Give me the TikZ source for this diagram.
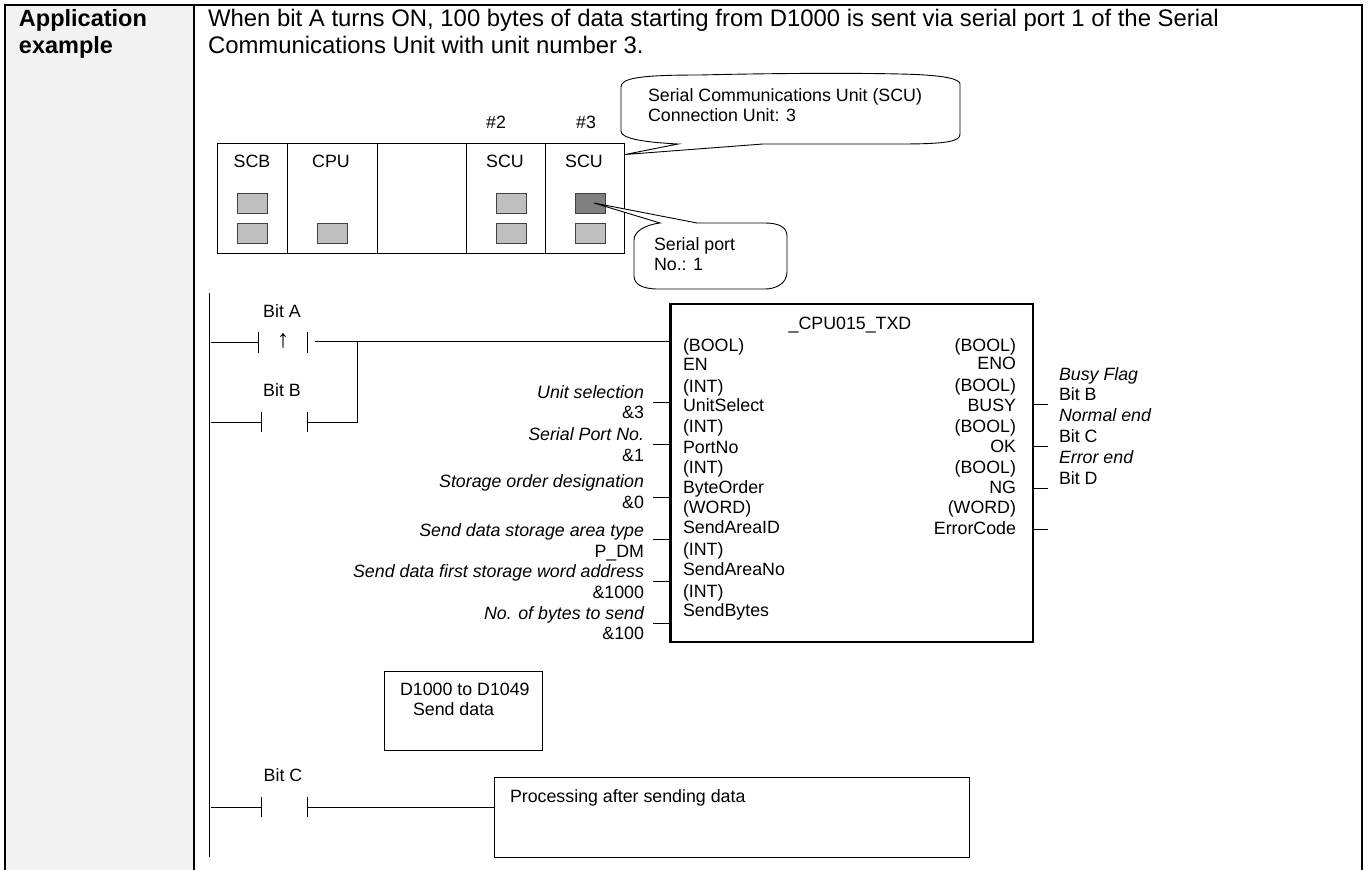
\documentclass[tikz,border=0pt]{standalone}
\usepackage{fontspec}
\setmainfont{Liberation Sans}
\tikzset{
  x=1pt,y=-1pt,
  every node/.style={inner sep=0pt,outer sep=0pt,font=\fontsize{17.8}{20}\selectfont},
  lbl/.style={anchor=base},
  lft/.style={anchor=base west},
  rgt/.style={anchor=base east},
  itl/.style={anchor=base east,font=\fontsize{17.8}{20}\selectfont\itshape},
  wire/.style={draw=black,line width=1pt},
  border/.style={draw=black,line width=2pt},
  slot/.style={draw=black!75,line width=1pt,fill=black!25,minimum width=30pt,minimum height=20pt},
  slotdark/.style={slot,fill=black!50},
  unit/.style={draw=black,line width=0.9pt,minimum height=110pt},
  callout/.style={draw=black,line width=0.9pt,fill=white},
  bodytext/.style={anchor=base west,font=\fontsize{23.9}{25}\selectfont},
  headtext/.style={anchor=base west,font=\fontsize{23.5}{25}\selectfont\bfseries},
}
\begin{document}
\begin{tikzpicture}
\useasboundingbox (0,0) rectangle (1368,870);
\fill[white] (0,0) rectangle (1368,870);
\fill[black!5] (5,5) rectangle (194,870);
% table frame
\coordinate (tl) at (4.5,5);
\coordinate (tr) at (1362,5);
\coordinate (bl) at (4.5,870);
\coordinate (br) at (1362,870);
\coordinate (tm) at (194,5);
\coordinate (bm) at (194,870);
\draw[border] (bl) -- (tl) -- (tr) -- (br);
\draw[border] (tm) -- (bm);
\node[headtext] (t1) at (19,27) {Application};
\node[headtext] (t2) at (19,53) {example};
\node[bodytext] (d1) at (208,27) {When bit A turns ON, 100 bytes of data starting from D1000 is sent via serial port 1 of the Serial};
\node[bodytext] (d2) at (208,53) {Communications Unit with unit number 3.};
% rack
\node[unit,anchor=north west,minimum width=70pt] (u1) at (217,143) {};
\node[unit,anchor=north west,minimum width=90pt] (u2) at (287,143) {};
\node[unit,anchor=north west,minimum width=89pt] (u3) at (377,143) {};
\node[unit,anchor=north west,minimum width=79pt] (u4) at (466,143) {};
\node[unit,anchor=north west,minimum width=79pt] (u5) at (545,143) {};
\node[lbl] (nsh2) at (496,128) {\#2};
\node[lbl] (nsh3) at (586,128) {\#3};
\node[lbl] (n1) at (252,167) {SCB};
\node[lbl] (n2) at (331,167) {CPU};
\node[lbl] (n4) at (505,167) {SCU};
\node[lbl] (n5) at (584,167) {SCU};
\node[slot] (s1) at (252,203) {};
\node[slot] (s2) at (252,233) {};
\node[slot] (s3) at (332,233) {};
\node[slot] (s4) at (511,203) {};
\node[slot] (s5) at (511,233) {};
\node[slotdark] (s6) at (590,203) {};
\node[slot] (s7) at (590,233.500) {};
% callout 1
\draw[callout] (625,154.500) -- (678,144)
  .. controls (640,142) and (621,138) .. (621,131)
  -- (621,87)
  .. controls (621,78) and (640,75) .. (700,75)
  .. controls (780,73) and (860,73) .. (900,74)
  .. controls (950,75) and (960,80) .. (960,84)
  -- (960,134)
  .. controls (960,141) and (950,144) .. (900,144)
  -- (763,144)
  -- cycle;
\node[lft] (c1a) at (648,101) {Serial Communications Unit (SCU)};
\node[lft] (c1b) at (648,121) {Connection Unit: 3};
% callout 2
\draw[callout] (594,203) -- (697,223)
  -- (765,223)
  .. controls (780,223) and (787,228) .. (787,236)
  -- (787,272)
  .. controls (787,284) and (775,289) .. (765,289)
  -- (658,289)
  .. controls (642,289) and (634,284) .. (634,276)
  -- (634,240)
  .. controls (634,232) and (644,225) .. (660,223)
  -- cycle;
\node[lft] (c2a) at (654,250) {Serial port};
\node[lft] (c2b) at (654,270) {No.: 1};
% rails
\coordinate (r1a) at (209,293);
\coordinate (r1b) at (209,857);
\draw[wire] (r1a) -- (r1b);
% Bit A contact
\node[lbl] (ba) at (282,317) {Bit A};
\coordinate (a0) at (211,342);\coordinate (a1) at (258,342);
\coordinate (a1t) at (258,332);\coordinate (a1b) at (258,353);
\coordinate (a2t) at (307,332);\coordinate (a2b) at (307,353);
\coordinate (a3) at (315,341);\coordinate (a4) at (670,341);
\coordinate (aj) at (357,341);
\draw[wire] (a0) -- (a1) (a1t) -- (a1b) (a2t) -- (a2b) (a3) -- (a4);
\node[lbl,font=\fontsize{25}{25}\selectfont] (arr) at (283,347) {↑};
% Bit B contact
\node[lbl] (bb) at (282,396) {Bit B};
\coordinate (b0) at (211,422);\coordinate (b1) at (261,422);
\coordinate (b1t) at (261,412);\coordinate (b1b) at (261,432);
\coordinate (b2t) at (307,412);\coordinate (b2b) at (307,432);
\coordinate (b3) at (357,422);
\draw[wire] (b0) -- (b1) (b1t) -- (b1b) (b2t) -- (b2b) (b2t |- b3) -- (b3) -- (aj);
% FB
\node[draw=black,line width=2.4pt,anchor=north west,minimum width=362.500pt,minimum height=338pt] (fb) at (670.500,304) {};
\node[lbl] (fbt) at (850,329) {\_CPU015\_TXD};
\foreach \i/\y/\a/\yb/\b in {0/351/(BOOL)/370/EN,1/392/(INT)/411/UnitSelect,2/432/(INT)/453/PortNo,3/473/(INT)/493/ByteOrder,4/513/(WORD)/533/SendAreaID,5/555/(INT)/575/SendAreaNo,6/597/(INT)/616/SendBytes}{
  \node[lft] (il\i) at (683,\y) {\a};
  \node[lft] (in\i) at (683,\yb) {\b};
}
\foreach \i/\y/\a/\yb/\b in {0/351/(BOOL)/369/ENO,1/391/(BOOL)/411/BUSY,2/432/(BOOL)/452/OK,3/473/(BOOL)/493/NG,4/513/(WORD)/534/ErrorCode}{
  \node[rgt] (ol\i) at (1016,\y) {\a};
  \node[rgt] (on\i) at (1016,\yb) {\b};
}
% input params
\foreach \i/\a/\ya/\b/\yb/\w in {1/Unit selection/398/\&3/418/402.5,2/Serial Port No./440/\&1/461/444,3/Storage order designation/487/\&0/508/497.5,4/Send data storage area type/536/P\_DM/557/539.5,5/Send data first storage word address/577/\&1000/598/581.5,6/No. of bytes to send/619/\&100/639/623}{
  \node[itl] (pl\i) at (644,\ya) {\a};
  \node[rgt] (pv\i) at (644,\yb) {\b};
  \coordinate (pw\i) at (653,\w);
  \draw[wire] (pw\i) -- (pw\i -| fb.west);
}
% output params
\foreach \i/\y in {1/404,2/446,3/488,4/529}{
  \coordinate (ow\i) at (1048,\y);
  \draw[wire] (ow\i -| fb.east) -- (ow\i);
}
\node[itl,anchor=base west] (q1) at (1059,380) {Busy Flag};
\node[lft] (q1v) at (1059,400) {Bit B};
\node[itl,anchor=base west] (q2) at (1059,421) {Normal end};
\node[lft] (q2v) at (1059,442) {Bit C};
\node[itl,anchor=base west] (q3) at (1059,463) {Error end};
\node[lft] (q3v) at (1059,484) {Bit D};
% data box
\node[draw=black,line width=0.9pt,anchor=north west,minimum width=158pt,minimum height=79pt] (dbox) at (384,671) {};
\node[lft] (db1) at (400,695) {D1000 to D1049};
\node[lft] (db2) at (413,715) {Send data};
% Bit C
\node[lbl] (bc) at (283,781) {Bit C};
\coordinate (c0) at (211,807);\coordinate (c1) at (261,807);
\coordinate (c1t) at (261,797);\coordinate (c1b) at (261,817);
\coordinate (c2t) at (307,797);\coordinate (c2b) at (307,817);
\node[draw=black,line width=0.9pt,anchor=north west,minimum width=475pt,minimum height=80pt] (pbox) at (494,777) {};
\draw[wire] (c0) -- (c1) (c1t) -- (c1b) (c2t) -- (c2b) (c2t |- c0) -- (c0 -| pbox.west);
\node[lft] (pt) at (510,802) {Processing after sending data};
\end{tikzpicture}
\end{document}
